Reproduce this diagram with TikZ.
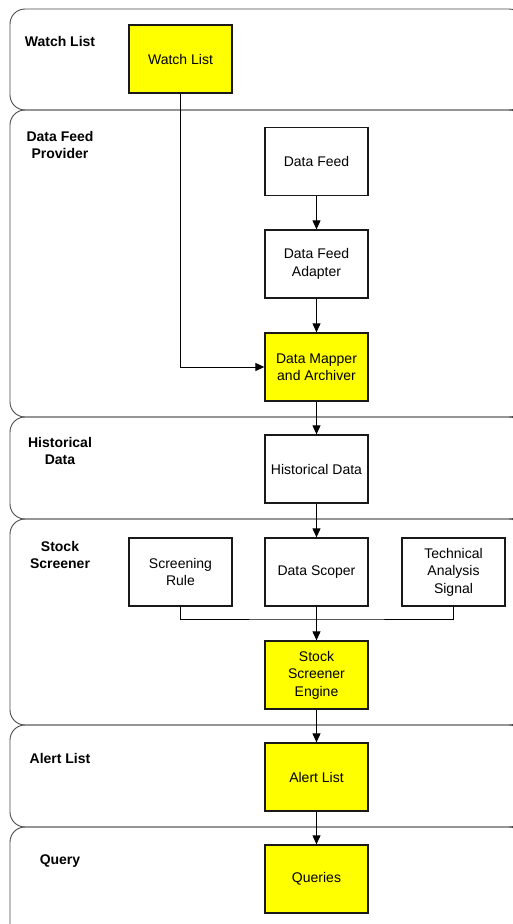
\documentclass[tikz,border=0pt]{standalone}
\usepackage{fontspec}
\setmainfont{Liberation Sans}
\usetikzlibrary{arrows.meta}
\definecolor{boxyellow}{HTML}{FFFF00}
\definecolor{laneline}{HTML}{4A4A4A}
\begin{document}
\begin{tikzpicture}[x=1pt,y=-1pt,
  lane/.style={draw=laneline,line width=0.9pt,rounded corners=15pt},
  lanelabel/.style={align=center,font=\fontsize{14}{16.7}\selectfont\bfseries,inner sep=0pt},
  stepbox/.style={draw=black!90,line width=1.3pt,fill=white,minimum width=103pt,minimum height=68pt,
    align=center,inner sep=2pt,font=\fontsize{14}{17.5}\selectfont},
  hot/.style={stepbox,fill=boxyellow},
  flow/.style={draw=black,line width=1pt,-{Triangle[length=9pt,width=8pt]}},
  link/.style={draw=black,line width=1pt}]
\useasboundingbox (0,0) rectangle (513,924);
\clip (0,0) rectangle (513,924);

% swim lanes
\draw[lane] (10,9) rectangle (524,110);
\draw[lane] (10,110) rectangle (524,417);
\draw[lane] (10,417) rectangle (524,519);
\draw[lane] (10,519) rectangle (524,725);
\draw[lane] (10,725) rectangle (524,827);
\draw[lane] (10,827) rectangle (524,950);

% lane titles
\node[lanelabel] (lwl) at (60,41.5) {Watch List};
\node[lanelabel] (ldf) at (60,145) {Data Feed\\Provider};
\node[lanelabel] (lhd) at (60,451) {Historical\\Data};
\node[lanelabel] (lss) at (60,555) {Stock\\Screener};
\node[lanelabel] (lal) at (60,758.5) {Alert List};
\node[lanelabel] (lq) at (60,861) {Query};

% process boxes
\node[hot] (wl) at (180.5,59) {Watch List};
\node[stepbox] (df) at (316.5,161.5) {Data Feed};
\node[stepbox] (dfa) at (316.5,264) {Data Feed\\Adapter};
\node[hot] (dm) at (316.5,367) {Data Mapper\\and Archiver};
\node[stepbox] (hd) at (316.5,469) {Historical Data};
\node[stepbox] (sr) at (180.5,572) {Screening\\Rule};
\node[stepbox] (ds) at (316.5,572) {Data Scoper};
\node[stepbox] (tas) at (453.5,572) {Technical\\Analysis\\Signal};
\node[hot] (sse) at (316.5,675) {Stock\\Screener\\Engine};
\node[hot] (al) at (316.5,777) {Alert List};
\node[hot] (q) at (316.5,879) {Queries};

% connectors
\draw[flow] (wl.south) |- (dm.west);
\draw[flow] (df) -- (dfa);
\draw[flow] (dfa) -- (dm);
\draw[flow] (dm) -- (hd);
\draw[flow] (hd) -- (ds);
\coordinate (merge) at (316.5,619);
\draw[link] (sr.south) |- (merge) -| (tas.south);
\draw[flow] (ds) -- (sse);
\draw[flow] (sse) -- (al);
\draw[flow] (al) -- (q);
\end{tikzpicture}
\end{document}
